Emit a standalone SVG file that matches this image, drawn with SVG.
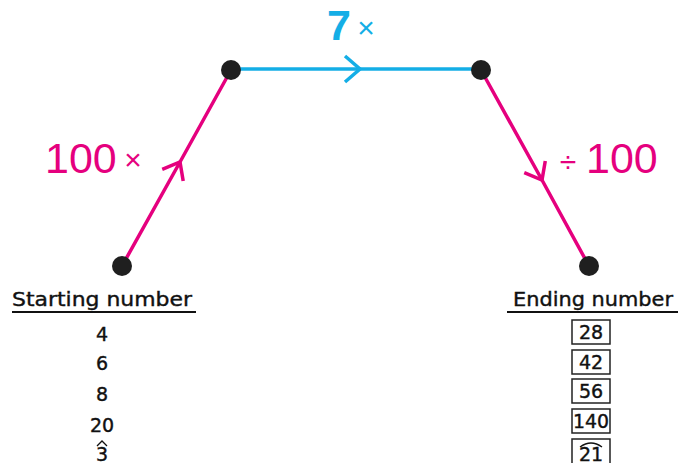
<svg xmlns="http://www.w3.org/2000/svg" width="678" height="463" viewBox="0 0 678 463">
<style>
.pink{stroke:#e5007e;stroke-width:3.5;fill:none}
.blue{stroke:#14aee6;stroke-width:3.5;fill:none}
.dot{fill:#1f1f1f}
.t{font-family:"DejaVu Sans","Liberation Sans",sans-serif;fill:#111;stroke:#111;stroke-width:0.4}
.hdr{font-size:20px}
.num{font-size:19px;text-anchor:middle}
.box{fill:none;stroke:#222;stroke-width:1.5}
.big{font-family:"Liberation Sans","DejaVu Sans",sans-serif;font-size:43px}
.sm{font-family:"Liberation Sans","DejaVu Sans",sans-serif;font-size:30px;text-anchor:middle}
</style>
<defs>
<marker id="chp" markerUnits="userSpaceOnUse" markerWidth="40" markerHeight="40" viewBox="-20 -20 40 40" refX="0" refY="0" orient="auto" overflow="visible">
<path d="M-15,-12 L0,0 L-15,12" fill="none" stroke="#e5007e" stroke-width="3.5"/>
</marker>
<marker id="chb" markerUnits="userSpaceOnUse" markerWidth="40" markerHeight="40" viewBox="-20 -20 40 40" refX="0" refY="0" orient="auto" overflow="visible">
<path d="M-15,-13 L0,0 L-15,13" fill="none" stroke="#14aee6" stroke-width="3.5"/>
</marker>
</defs>
<g id="connectors">
<path class="pink" d="M122,266 L180,162 L231,70" marker-mid="url(#chp)"/>
<path class="blue" d="M231,69 L360,69 L481,69" marker-mid="url(#chb)"/>
<path class="pink" d="M481,70 L542,180 L589,266" marker-mid="url(#chp)"/>
</g>
<g id="n1"><circle class="dot" cx="122" cy="266" r="10"/></g>
<g id="n2"><circle class="dot" cx="231" cy="70" r="10"/></g>
<g id="n3"><circle class="dot" cx="481" cy="70" r="10"/></g>
<g id="n4"><circle class="dot" cx="589" cy="266" r="10"/></g>
<g id="labels">
<text class="big" x="45" y="173" fill="#e5007e">100</text>
<text class="sm" x="133" y="170" fill="#e5007e">×</text>
<text class="big" x="327" y="40" fill="#14aee6" font-weight="bold">7</text>
<text class="sm" x="366" y="38" fill="#14aee6">×</text>
<text class="sm" x="568" y="172" fill="#e5007e">÷</text>
<text class="big" x="586" y="173" fill="#e5007e">100</text>
</g>
<g id="starting">
<text class="t hdr" x="12" y="306" textLength="180" lengthAdjust="spacingAndGlyphs">Starting number</text>
<line x1="12" y1="312" x2="196" y2="312" stroke="#111" stroke-width="2"/>
<text class="t num" x="102" y="341">4</text>
<text class="t num" x="102" y="370">6</text>
<text class="t num" x="102" y="401">8</text>
<text class="t num" x="102" y="432">20</text>
<text class="t num" x="102" y="461">3</text>
<path d="M97,446 L102,441 L107,446" fill="none" stroke="#111" stroke-width="1.3"/>
</g>
<g id="ending">
<text class="t hdr" x="513" y="306" textLength="160" lengthAdjust="spacingAndGlyphs">Ending number</text>
<line x1="507" y1="312" x2="678" y2="312" stroke="#111" stroke-width="2"/>
<rect class="box" x="572" y="320" width="38" height="24"/>
<text class="t num" x="591" y="339">28</text>
<rect class="box" x="572" y="350" width="38" height="24"/>
<text class="t num" x="591" y="369">42</text>
<rect class="box" x="572" y="379" width="38" height="24"/>
<text class="t num" x="591" y="398">56</text>
<rect class="box" x="572" y="409" width="38" height="24"/>
<text class="t num" x="591" y="428" textLength="36" lengthAdjust="spacingAndGlyphs">140</text>
<rect class="box" x="572" y="439" width="38" height="30"/>
<path d="M580,447 Q591,439 602,447" fill="none" stroke="#111" stroke-width="1.3"/>
<text class="t num" x="591" y="461">21</text>
</g>
</svg>
